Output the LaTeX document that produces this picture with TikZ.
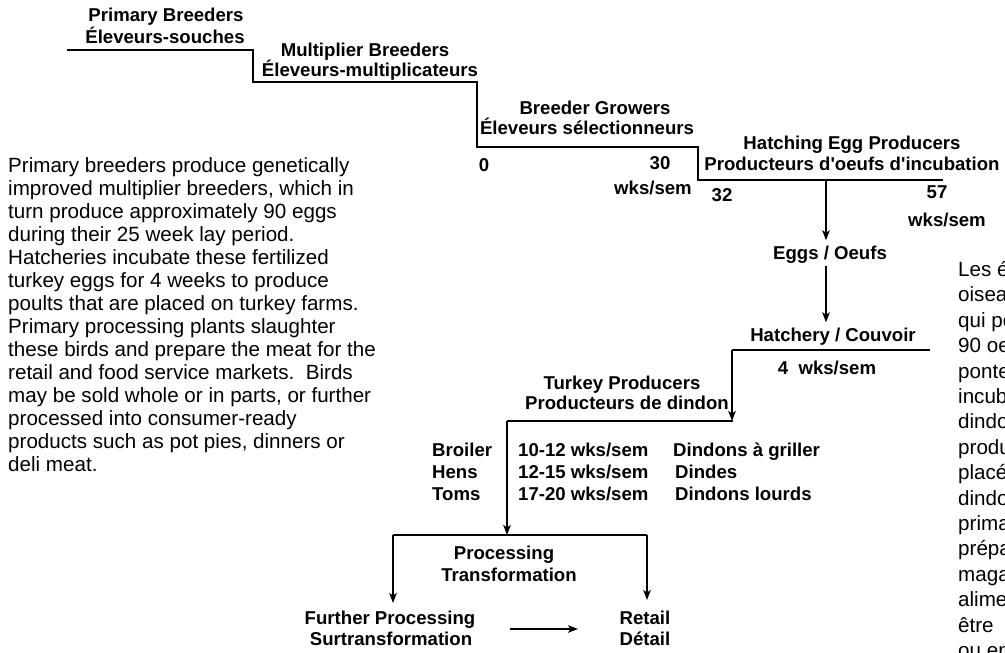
\documentclass[tikz,border=0pt]{standalone}
\usepackage{fontspec}
\setmainfont{Liberation Sans}
\usetikzlibrary{arrows.meta}
\begin{document}
\begin{tikzpicture}[x=1pt,y=-1pt,
  lbl/.style={font=\bfseries\fontsize{18.6}{22}\selectfont, inner sep=0pt, text height=13pt, text depth=0pt},
  lblw/.style={lbl, anchor=west},
  body/.style={font=\fontsize{20.6}{25}\selectfont, inner sep=0pt, anchor=base west},
  stair/.style={line width=1.8pt},
  arr/.style={line width=1.8pt, -{Stealth[length=10pt,width=7.5pt,inset=2.5pt]}}]
\useasboundingbox (0,0) rectangle (1005,653);
\clip (0,0) rectangle (1005,653);
\fill[white] (0,0) rectangle (1005,653);

% staircase
\coordinate (s0) at (67,50);
\coordinate (s1) at (253,50);
\coordinate (s2) at (253,82);
\coordinate (s3) at (477,82);
\coordinate (s4) at (477,147);
\coordinate (s5) at (698,147);
\coordinate (s6) at (698,180);
\coordinate (s7) at (943,180);
\draw[stair] (s0) -- (s1) -- (s2) -- (s3) -- (s4) -- (s5) -- (s6) -- (s7);

\node[lbl] (pb1) at (166,15) {Primary Breeders};
\node[lbl] (pb2) at (165,37) {Éleveurs-souches};
\node[lbl] (mb1) at (365,50) {Multiplier Breeders};
\node[lbl] (mb2) at (370,70) {Éleveurs-multiplicateurs};
\node[lbl] (bg1) at (595,108) {Breeder Growers};
\node[lbl] (bg2) at (587,128) {Éleveurs sélectionneurs};
\node[lbl] (he1) at (852,143) {Hatching Egg Producers};
\node[lbl] (he2) at (852,164) {Producteurs d\textquotesingle oeufs d\textquotesingle incubation};

\node[lbl] (n0) at (484,165) {0};
\node[lbl] (n30) at (660,163) {30};
\node[lbl] (w30) at (653,188) {wks/sem};
\node[lbl] (n32) at (722,195) {32};
\node[lbl] (n57) at (937,192) {57};
\node[lbl] (w57) at (947,220) {wks/sem};

% eggs and hatchery
\coordinate (e0) at (826,180);
\node[lbl, inner ysep=6pt] (eggs) at (830,253) {Eggs / Oeufs};
\node[lbl, inner ysep=6pt] (hatch) at (833,335) {Hatchery / Couvoir};
\draw[arr] (e0) -- (e0 |- eggs.north);
\draw[arr] (e0 |- eggs.south) -- (e0 |- hatch.north);
\coordinate (h0) at (732,350);
\coordinate (h1) at (930,350);
\draw[stair] (h1) -- (h0);
\node[lbl] (four) at (827,368) {4~~wks/sem};

% turkey producers
\coordinate (t0) at (507,421);
\coordinate (t1) at (733,421);
\draw[stair] (t0) -- (t1);
\draw[arr] (h0) -- (h0 |- t1);
\node[lbl] (tp1) at (622,383) {Turkey Producers};
\node[lbl] (tp2) at (627,403) {Producteurs de dindon};

\node[lblw] (br) at (432,450) {Broiler};
\node[lblw] (he) at (432,472) {Hens};
\node[lblw] (to) at (432,494) {Toms};
\node[lblw] (wb) at (518,450) {10-12 wks/sem};
\node[lblw] (wh) at (518,472) {12-15 wks/sem};
\node[lblw] (wt) at (518,494) {17-20 wks/sem};
\node[lblw] (fb) at (673,450) {Dindons à griller};
\node[lblw] (fh) at (675,472) {Dindes};
\node[lblw] (ft) at (675,494) {Dindons lourds};

% processing
\coordinate (p0) at (393,535);
\coordinate (p1) at (647,535);
\draw[arr] (t0) -- (t0 |- p0);
\draw[stair] (p0) -- (p1);
\node[lbl] (pr1) at (504,553) {Processing};
\node[lbl] (pr2) at (509,575) {Transformation};
\node[lbl] (fp1) at (390,618) {Further Processing};
\node[lbl] (fp2) at (391,639) {Surtransformation};
\node[lbl] (rt1) at (645,618) {Retail};
\node[lbl] (rt2) at (645,639) {Détail};
\coordinate (fpTip) at (393,603);
\coordinate (rtTip) at (647,600);
\draw[arr] (p0) -- (fpTip);
\draw[arr] (p1) -- (rtTip);
\coordinate (ha0) at (510,629);
\coordinate (ha1) at (578,629);
\draw[arr] (ha0) -- (ha1);

% English paragraph
\foreach \t [count=\i] in {
 {Primary breeders produce genetically},
 {improved multiplier breeders, which in},
 {turn produce approximately 90 eggs},
 {during their 25 week lay period.},
 {Hatcheries incubate these fertilized},
 {turkey eggs for 4 weeks to produce},
 {poults that are placed on turkey farms.},
 {Primary processing plants slaughter},
 {these birds and prepare the meat for the},
 {retail and food service markets.\ \ Birds},
 {may be sold whole or in parts, or further},
 {processed into consumer-ready},
 {products such as pot pies, dinners or},
 {deli meat.}}
  \node[body] (en\i) at (8,{172.5+23*(\i-1)}) {\t};

% French paragraph (cut by the right edge)
\foreach \t [count=\i] in {
 {Les éleveurs-souches produisent des},
 {oiseaux génétiquement améliorés},
 {qui pondent à leur tour environ},
 {90 oeufs durant leur période de},
 {ponte de 25 semaines. Les couvoirs},
 {incubent ces oeufs fertilisés de},
 {dindon pendant 4 semaines afin de},
 {produire des dindonneaux qui sont},
 {placés dans des fermes d\textquotesingle élevage},
 {dindons. Les usines de transformation},
 {primaire abattent ces oiseaux et},
 {préparent la viande pour les},
 {magasins de détail et les services},
 {alimentaires. Les oiseaux peuvent},
 {être\quad vendus entiers},
 {ou en morceaux, ou encore}}
  \node[body] (fr\i) at (958,{276.5+25.4*(\i-1)}) {\t};
\end{tikzpicture}
\end{document}
